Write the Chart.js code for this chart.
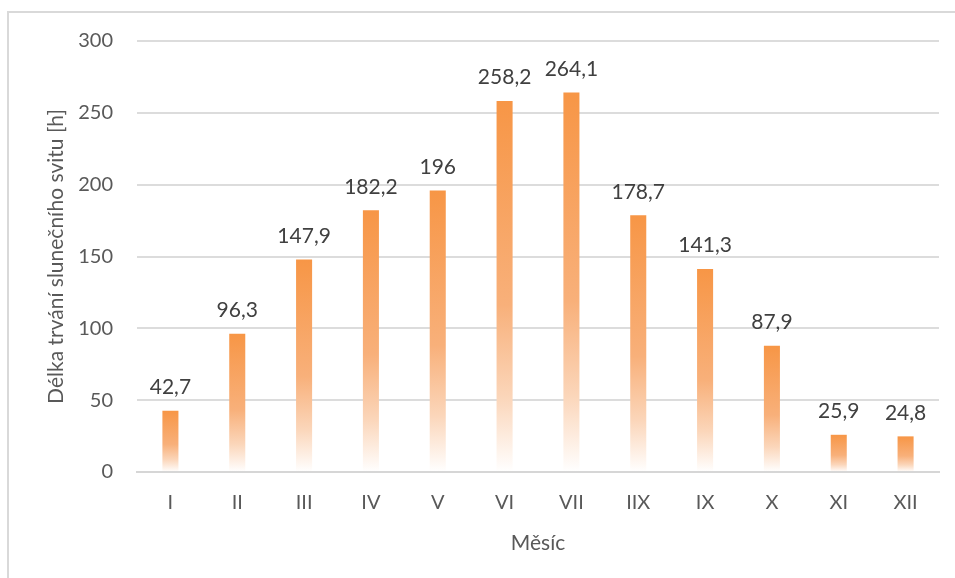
<!DOCTYPE html>
<html lang="cs">
<head>
<meta charset="utf-8">
<script src="https://cdn.jsdelivr.net/npm/chart.js@4/dist/chart.umd.min.js"></script>
<style>
  html, body { margin: 0; padding: 0; background: #fff; }
  #wrap { position: relative; width: 955px; height: 578px; overflow: hidden; }
  #frame { position: absolute; left: 7px; top: 11px; width: 960px; height: 600px;
           border-left: 2px solid #d9d9d9; border-top: 2px solid #d9d9d9; box-sizing: border-box; }
  canvas { position: absolute; left: 0; top: 0; }
</style>
</head>
<body>
<div id="wrap">
  <div id="frame"></div>
  <canvas id="c" width="955" height="578"></canvas>
</div>
<script>
// Měsíční délka trvání slunečního svitu
const months = ['I', 'II', 'III', 'IV', 'V', 'VI', 'VII', 'IIX', 'IX', 'X', 'XI', 'XII'];
const sunshineHours = [42.7, 96.3, 147.9, 182.2, 196, 258.2, 264.1, 178.7, 141.3, 87.9, 25.9, 24.8];
const yTicks = [0, 50, 100, 150, 200, 250, 300];

const FONT = 'Lato, "Open Sans", sans-serif';
const TEXT = '#595959';

function barGradient(ctx) {
  const chart = ctx.chart;
  if (!chart.chartArea || ctx.dataIndex === undefined) return 'rgb(247,150,70)';
  const y = chart.scales.y;
  const top = y.getPixelForValue(ctx.dataset.data[ctx.dataIndex]);
  const base = y.getPixelForValue(0);
  const g = chart.ctx.createLinearGradient(0, top, 0, base);
  g.addColorStop(0, 'rgb(247,150,70)');
  g.addColorStop(0.55, 'rgb(248,176,122)');
  g.addColorStop(0.8, 'rgb(251,214,186)');
  g.addColorStop(1, 'rgb(255,255,255)');
  return g;
}

// popisky hodnot nad sloupci
const valueLabels = {
  id: 'valueLabels',
  afterDatasetsDraw(chart) {
    const c = chart.ctx;
    const meta = chart.getDatasetMeta(0);
    c.save();
    c.font = '21px ' + FONT;
    c.fillStyle = '#404040';
    c.textAlign = 'center';
    c.textBaseline = 'bottom';
    meta.data.forEach((bar, i) => {
      const txt = String(chart.data.datasets[0].data[i]).replace('.', ',');
      c.fillText(txt, bar.x, bar.y - 13);
    });
    c.restore();
  }
};

new Chart(document.getElementById('c'), {
  type: 'bar',
  data: {
    labels: months,
    datasets: [{
      data: sunshineHours,
      backgroundColor: barGradient,
      borderWidth: 0,
      categoryPercentage: 1,
      barPercentage: 0.24
    }]
  },
  options: {
    responsive: false,
    animation: false,
    devicePixelRatio: 1,
    layout: { padding: { left: 0, right: 16, top: 41, bottom: 0 } },
    plugins: { legend: { display: false }, tooltip: { enabled: false } },
    scales: {
      x: {
        grid: { display: false, drawTicks: false },
        border: { display: true, color: '#d6d6d6', width: 2 },
        ticks: { color: TEXT, font: { family: FONT, size: 20 }, padding: 19 },
        title: { display: true, text: 'Měsíc', color: TEXT, font: { family: FONT, size: 21 },
                 padding: { top: 0, bottom: 22 } },
        afterFit(s) { s.height = 106; }
      },
      y: {
        min: 0, max: 300,
        afterBuildTicks(s) { s.ticks = yTicks.map(v => ({ value: v })); },
        grid: { color: '#dcdcdc', lineWidth: 2, drawTicks: false },
        border: { display: false },
        ticks: { color: TEXT, font: { family: FONT, size: 20 }, padding: 24 },
        title: { display: true, text: 'Délka trvání slunečního svitu [h]', color: TEXT,
                 font: { family: FONT, size: 21 }, padding: { top: 44, bottom: 0 } },
        afterFit(s) { s.width = 137; }
      }
    }
  },
  plugins: [valueLabels]
});
</script>
</body>
</html>
